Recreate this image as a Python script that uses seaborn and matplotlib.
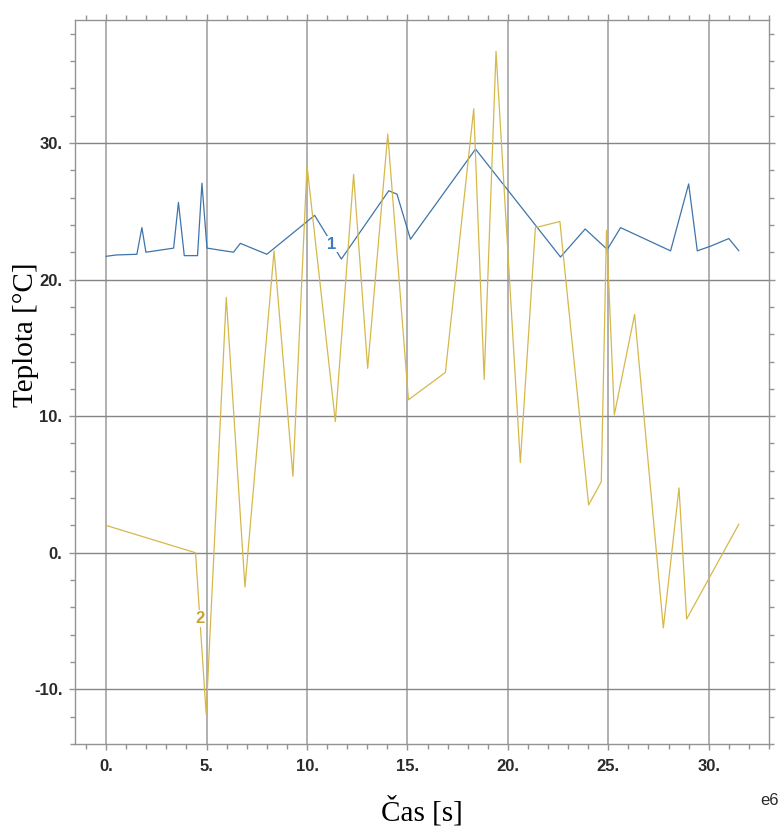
import matplotlib
matplotlib.use("Agg")
import matplotlib.pyplot as plt
from matplotlib.ticker import MultipleLocator, FuncFormatter
import pandas as pd
import seaborn as sns

# Time in units of 1e6 s, temperature in °C
t_1 = [0.0, 0.5, 1.53, 1.78, 1.98, 3.36, 3.6, 3.89, 4.55, 4.77, 5.02, 6.34, 6.68,
       8.0, 10.38, 11.71, 14.07, 14.48, 15.15, 18.39, 22.62, 23.85, 24.95, 25.61,
       28.1, 29.0, 29.43, 30.1, 31.0, 31.5]
temp_1 = [21.7, 21.8, 21.85, 23.8, 22.0, 22.3, 25.65, 21.75, 21.75, 27.05, 22.3,
          22.0, 22.65, 21.85, 24.7, 21.5, 26.5, 26.25, 22.95, 29.55, 21.65, 23.7,
          22.2, 23.8, 22.1, 27.0, 22.1, 22.45, 23.0, 22.1]

t_2 = [0.0, 4.45, 4.98, 5.98, 6.91, 8.36, 9.3, 10.0, 11.41, 12.32, 13.02, 14.02,
       15.05, 16.89, 18.3, 18.82, 19.41, 20.62, 21.37, 22.59, 24.02, 24.65, 24.91,
       25.3, 26.31, 27.74, 28.52, 28.9, 31.5]
temp_2 = [2.0, 0.0, -11.8, 18.7, -2.5, 22.1, 5.6, 28.35, 9.6, 27.7, 13.5, 30.65,
          11.2, 13.2, 32.5, 12.7, 36.7, 6.6, 23.8, 24.25, 3.5, 5.2, 23.6, 10.1,
          17.45, -5.5, 4.75, -4.85, 2.1]

x_ticks = [0, 5, 10, 15, 20, 25, 30]
y_ticks = [-10, 0, 10, 20, 30]

BLUE = "#3f74aa"
GOLD = "#d5b84c"

df1 = pd.DataFrame({"t": t_1, "T": temp_1})
df2 = pd.DataFrame({"t": t_2, "T": temp_2})

sns.set_theme(style="white")
plt.rcParams["font.family"] = ["Liberation Sans", "DejaVu Sans"]

fig = plt.figure(figsize=(7.8, 8.3), dpi=100)
ax = fig.add_axes([75 / 780, 1 - 744 / 830, 694 / 780, 724 / 830])

sns.lineplot(data=df1, x="t", y="T", sort=False, estimator=None, color=BLUE,
             linewidth=0.9, ax=ax, zorder=3)
sns.lineplot(data=df2, x="t", y="T", sort=False, estimator=None, color=GOLD,
             linewidth=0.9, ax=ax, zorder=4)

ax.set_xlim(-1.55, 33.0)
ax.set_ylim(-14.0, 39.0)

# grid: lighter verticals, darker horizontals
for xv in x_ticks:
    ax.axvline(xv, color="#b0b0b0", linewidth=1.4, zorder=1)
for yv in y_ticks:
    ax.axhline(yv, color="#858585", linewidth=1.0, zorder=1)

fmt = FuncFormatter(lambda v, p: f"{v:.0f}.")
ax.set_xticks(x_ticks)
ax.set_yticks(y_ticks)
ax.xaxis.set_major_formatter(fmt)
ax.yaxis.set_major_formatter(fmt)
ax.xaxis.set_minor_locator(MultipleLocator(1))
ax.yaxis.set_minor_locator(MultipleLocator(2))

for s in ax.spines.values():
    s.set_visible(True)
    s.set_color("#939393")
    s.set_linewidth(1.0)

ax.tick_params(which="both", direction="out", color="#939393", width=1.0,
               top=True, right=True, bottom=True, left=True,
               labeltop=False, labelright=False)
ax.tick_params(which="major", length=4)
ax.tick_params(which="minor", length=3.5)
ax.tick_params(axis="x", which="major", pad=7, labelsize=12, labelcolor="#2a2a2a")
ax.tick_params(axis="y", which="major", pad=5, labelsize=12, labelcolor="#2a2a2a")
for lab in ax.get_xticklabels() + ax.get_yticklabels():
    lab.set_fontweight("bold")

# curve labels
ax.text(11.25, 22.6, "1", color="#3c7bbd", fontsize=12, fontweight="bold",
        ha="center", va="center", zorder=6,
        bbox=dict(facecolor="white", edgecolor="none", pad=0.6))
ax.text(4.65, -4.8, "2", color="#c9a52c", fontsize=12, fontweight="bold",
        ha="center", va="center", zorder=6,
        bbox=dict(facecolor="white", edgecolor="none", pad=0.6))

ax.set_xlabel("Čas [s]", family=["Liberation Serif", "DejaVu Serif"],
              fontsize=21, color="black")
ax.xaxis.set_label_coords(0.5, -0.072)
ax.xaxis.label.set_va("top")

ax.set_ylabel("Teplota [°C]", family=["Liberation Serif", "DejaVu Serif"],
              fontsize=21, color="black")
ax.yaxis.set_label_coords(-0.071, 0.565)
ax.yaxis.label.set(va="center", ha="center", rotation_mode="default")

fig.text(760 / 780, 1 - 800 / 830, "e6", fontsize=12, color="#2a2a2a",
         ha="left", va="center")

fig.savefig("out.png", dpi=100)
